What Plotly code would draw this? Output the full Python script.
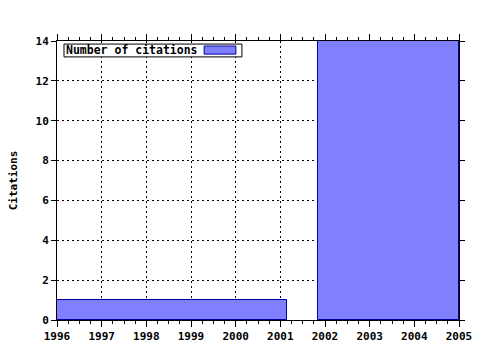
import plotly.graph_objects as go

# Data
bar_start = [1996.0, 2001.85]
bar_end = [2001.15, 2005.0]
citations = [1, 14]
series_name = "Number of citations"
x_ticks = [1996, 1997, 1998, 1999, 2000, 2001, 2002, 2003, 2004, 2005]
y_ticks = [0, 2, 4, 6, 8, 10, 12, 14]

centers = [(a + b) / 2 for a, b in zip(bar_start, bar_end)]
widths = [b - a for a, b in zip(bar_start, bar_end)]

FONT = "DejaVu Sans Mono"
fnt = dict(family=FONT, size=11, color="black", weight="bold")
lfnt = dict(family=FONT, size=11.5, color="black", weight="bold")

fig = go.Figure()
fig.add_trace(go.Bar(
    x=centers, y=citations, width=widths, name=series_name,
    marker=dict(color="#8080FF", line=dict(color="#0000A0", width=1)),
    showlegend=False,
))

fig.update_layout(
    width=480, height=350,
    margin=dict(l=57, r=21, t=41, b=30),
    paper_bgcolor="white", plot_bgcolor="white",
    font=fnt,
    bargap=0,
    xaxis=dict(
        range=[1996, 2005], tickvals=x_ticks, ticktext=[str(v) for v in x_ticks],
        ticks="outside", ticklen=6, tickcolor="black", tickwidth=1,
        showline=True, linecolor="black", linewidth=1, mirror="ticks",
        showgrid=True, gridcolor="black", griddash="2px,3px", gridwidth=1,
        zeroline=False, tickfont=fnt, automargin=False,
        minor=dict(dtick=0.25, ticks="outside", ticklen=3, tickcolor="black", showgrid=False),
    ),
    yaxis=dict(
        range=[0, 14], tickvals=y_ticks,
        ticks="outside", ticklen=5, tickcolor="black", tickwidth=1,
        showline=True, linecolor="black", linewidth=1, mirror="ticks",
        showgrid=True, gridcolor="black", griddash="2px,3px", gridwidth=1,
        zeroline=False, tickfont=fnt, automargin=False,
        title=dict(text="Citations", font=fnt, standoff=15),
    ),
)

# Legend box (drawn manually so the swatch sits right of the text)
fig.add_shape(type="rect", xref="paper", yref="paper",
              x0=0.0174, x1=0.460, y0=0.943, y1=0.989,
              line=dict(color="black", width=1), fillcolor="white", layer="above")
fig.add_shape(type="rect", xref="paper", yref="paper",
              x0=0.366, x1=0.445, y0=0.953, y1=0.982,
              line=dict(color="#0000A0", width=1), fillcolor="#8080FF", layer="above")
fig.add_annotation(xref="paper", yref="paper", x=0.0174, y=0.966,
                   xanchor="left", yanchor="middle", text=series_name,
                   showarrow=False, font=lfnt)

fig.write_html("out.html")
